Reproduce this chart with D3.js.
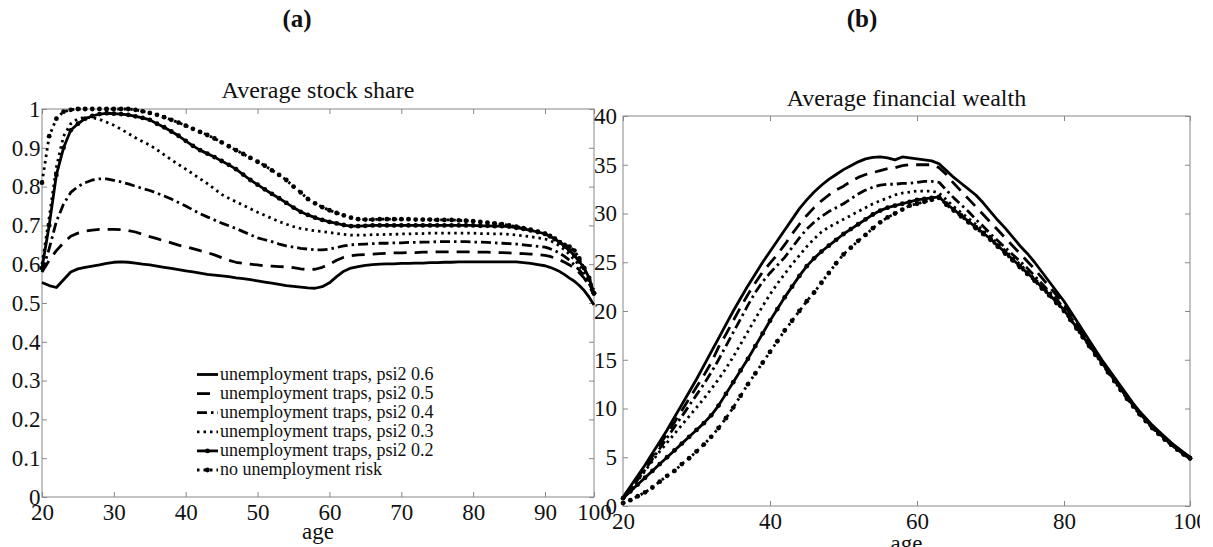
<!DOCTYPE html>
<html><head><meta charset="utf-8">
<script src="https://cdn.jsdelivr.net/npm/d3@7"></script>
<style>
body{margin:0;background:#fff}
svg{display:block}
text{font-family:"Liberation Serif","Times New Roman",serif;fill:#111}
</style>
</head><body>
<svg id="c" width="1213" height="547"></svg>
<script>
// ---------- data ----------
const ages = [20,21,22,23,24,25,26,27,28,29,30,31,32,33,34,35,36,37,38,39,40,41,42,43,44,45,46,47,48,49,50,
  51,52,53,54,55,56,57,58,59,60,61,62,63,64,65,66,67,68,69,70,71,72,73,74,75,76,77,78,79,80,
  81,82,83,84,85,86,87,88,89,90,91,92,93,94,95,96,97,98,99,100];

const seriesNames = ["unemployment traps, psi2 0.6","unemployment traps, psi2 0.5","unemployment traps, psi2 0.4",
  "unemployment traps, psi2 0.3","unemployment traps, psi2 0.2","no unemployment risk"];

// Average stock share (panel a)
const shareP06 = [0.553,0.545,0.540,0.560,0.580,0.588,0.592,0.595,0.598,0.602,0.605,0.606,0.605,0.603,0.600,0.598,0.595,0.592,0.589,0.586,
  0.583,0.580,0.577,0.574,0.572,0.570,0.568,0.565,0.563,0.560,0.557,0.554,0.551,0.548,0.545,0.543,0.541,0.539,0.538,0.542,
  0.552,0.568,0.582,0.590,0.594,0.597,0.599,0.600,0.601,0.601,0.602,0.602,0.603,0.603,0.604,0.604,0.605,0.605,0.606,0.606,
  0.606,0.606,0.606,0.606,0.606,0.606,0.606,0.604,0.602,0.599,0.596,0.592,0.587,0.581,0.573,0.564,0.556,0.545,0.532,0.515,0.495];
const shareP05 = [0.580,0.610,0.635,0.655,0.672,0.680,0.685,0.688,0.690,0.690,0.690,0.689,0.687,0.683,0.677,0.671,0.666,0.660,0.655,0.649,
  0.645,0.640,0.635,0.630,0.624,0.617,0.610,0.605,0.602,0.600,0.598,0.596,0.595,0.594,0.593,0.591,0.588,0.586,0.587,0.592,
  0.600,0.610,0.618,0.622,0.624,0.625,0.626,0.627,0.628,0.629,0.629,0.630,0.630,0.631,0.631,0.632,0.632,0.632,0.632,0.632,
  0.632,0.631,0.631,0.630,0.630,0.629,0.628,0.627,0.626,0.625,0.623,0.620,0.616,0.611,0.605,0.598,0.589,0.578,0.564,0.545,0.520];
const shareP04 = [0.580,0.640,0.710,0.755,0.785,0.800,0.810,0.817,0.820,0.820,0.816,0.812,0.807,0.801,0.795,0.790,0.783,0.776,0.768,0.759,
  0.750,0.740,0.730,0.722,0.714,0.706,0.699,0.692,0.684,0.676,0.668,0.663,0.658,0.652,0.647,0.644,0.641,0.639,0.637,0.637,
  0.639,0.643,0.647,0.650,0.651,0.652,0.653,0.654,0.654,0.655,0.655,0.656,0.656,0.657,0.657,0.658,0.658,0.658,0.658,0.658,
  0.657,0.657,0.656,0.655,0.654,0.653,0.652,0.650,0.648,0.646,0.644,0.640,0.635,0.628,0.620,0.610,0.598,0.585,0.570,0.550,0.525];
const shareP03 = [0.600,0.720,0.850,0.930,0.962,0.975,0.978,0.978,0.973,0.966,0.958,0.948,0.937,0.926,0.916,0.907,0.895,0.882,0.869,0.857,
  0.845,0.833,0.820,0.808,0.794,0.780,0.770,0.761,0.752,0.743,0.734,0.726,0.718,0.710,0.703,0.697,0.692,0.689,0.686,0.684,
  0.682,0.679,0.677,0.675,0.675,0.675,0.676,0.676,0.677,0.677,0.678,0.678,0.679,0.679,0.680,0.680,0.680,0.680,0.680,0.680,
  0.680,0.679,0.679,0.678,0.678,0.677,0.675,0.673,0.671,0.668,0.665,0.661,0.655,0.647,0.637,0.625,0.612,0.597,0.580,0.560,0.535];
const shareP02 = [0.590,0.700,0.830,0.900,0.945,0.962,0.975,0.982,0.987,0.989,0.988,0.987,0.985,0.981,0.977,0.972,0.962,0.953,0.942,0.931,
  0.918,0.905,0.894,0.885,0.876,0.866,0.856,0.845,0.831,0.817,0.805,0.793,0.781,0.770,0.758,0.746,0.735,0.727,0.720,0.714,
  0.709,0.705,0.701,0.698,0.698,0.699,0.700,0.700,0.700,0.700,0.700,0.700,0.700,0.700,0.700,0.700,0.700,0.700,0.700,0.700,
  0.700,0.699,0.699,0.698,0.698,0.697,0.694,0.691,0.687,0.683,0.678,0.672,0.665,0.656,0.646,0.635,0.622,0.607,0.590,0.565,0.525];
const shareNoRisk = [0.810,0.930,0.975,0.993,0.998,1.000,1.000,1.000,1.000,1.000,1.000,1.000,1.000,0.998,0.994,0.990,0.985,0.979,0.972,0.965,
  0.957,0.949,0.941,0.933,0.924,0.914,0.904,0.894,0.884,0.874,0.864,0.854,0.842,0.830,0.817,0.800,0.785,0.768,0.757,0.747,
  0.739,0.732,0.726,0.720,0.716,0.715,0.715,0.716,0.716,0.716,0.716,0.716,0.715,0.715,0.715,0.714,0.714,0.714,0.713,0.712,
  0.711,0.709,0.707,0.705,0.703,0.700,0.697,0.693,0.689,0.684,0.679,0.673,0.666,0.657,0.650,0.645,0.635,0.615,0.590,0.560,0.525];

// Average financial wealth (panel b)
const wealthP06 = [0.9,2.0,3.1,4.2,5.4,6.6,7.8,9.1,10.4,11.7,13.0,14.4,15.8,17.2,18.6,20.0,21.3,22.6,23.8,25.0,
  26.1,27.2,28.3,29.4,30.5,31.4,32.2,32.9,33.5,34.0,34.5,34.9,35.3,35.6,35.75,35.8,35.7,35.5,35.8,35.7,
  35.6,35.5,35.4,35.1,34.4,33.7,33.1,32.5,31.9,31.1,30.2,29.3,28.5,27.6,26.7,25.9,25.0,24.0,23.0,22.0,
  21.0,20.0,19.0,18.0,17.0,16.0,15.0,14.1,13.2,12.3,11.4,10.5,9.7,9.0,8.3,7.7,7.1,6.5,6.0,5.5,5.0];
const wealthP05 = [0.8,1.8,2.9,4.0,5.1,6.3,7.4,8.6,9.8,11.0,12.2,13.4,14.7,16.3,17.6,19.0,20.4,21.7,22.9,24.0,
  24.9,25.8,26.8,27.9,28.9,29.8,30.6,31.3,31.9,32.4,32.8,33.3,33.7,34.0,34.2,34.4,34.6,34.7,34.9,35.0,
  35.0,35.0,35.0,34.7,34.0,33.1,32.3,31.5,30.7,29.9,29.1,28.3,27.5,26.7,25.9,25.1,24.3,23.4,22.5,21.6,
  20.7,19.7,18.8,17.8,16.9,15.9,14.9,14.0,13.1,12.2,11.3,10.4,9.6,8.9,8.2,7.6,7.0,6.4,5.9,5.4,5.0];
const wealthP04 = [0.7,1.7,2.7,3.7,4.8,5.9,7.0,8.1,9.2,10.3,11.4,12.5,13.7,15.0,16.4,17.8,19.2,20.6,21.9,23.0,
  23.9,24.7,25.5,26.5,27.5,28.4,29.1,29.7,30.2,30.6,31.0,31.5,32.0,32.4,32.7,32.9,33.0,33.0,33.1,33.1,
  33.2,33.3,33.3,33.2,32.4,31.6,30.9,30.2,29.4,28.7,27.9,27.2,26.5,25.8,25.1,24.4,23.6,22.8,22.0,21.2,
  20.3,19.4,18.5,17.6,16.7,15.8,14.9,14.0,13.0,12.1,11.2,10.4,9.6,8.9,8.2,7.6,7.0,6.4,5.9,5.4,5.0];
const wealthP03 = [0.7,1.6,2.6,3.6,4.6,5.6,6.5,7.4,8.3,9.2,10.1,11.0,12.0,13.0,14.1,15.3,16.6,17.9,19.2,20.5,
  21.7,22.8,23.8,24.8,25.7,26.6,27.4,28.1,28.6,29.0,29.4,29.8,30.2,30.6,31.0,31.3,31.6,31.9,32.1,32.2,
  32.3,32.3,32.3,32.1,31.4,30.7,30.1,29.5,28.9,28.3,27.6,26.9,26.2,25.5,24.8,24.1,23.3,22.6,21.8,21.0,
  20.2,19.3,18.4,17.5,16.6,15.7,14.8,13.9,13.0,12.1,11.2,10.4,9.6,8.9,8.2,7.6,7.0,6.4,5.9,5.4,5.0];
const wealthP02 = [0.8,1.5,2.2,2.9,3.6,4.3,5.0,5.7,6.4,7.1,7.8,8.5,9.3,10.3,11.5,12.7,13.9,15.1,16.4,17.7,
  19.0,20.2,21.4,22.5,23.6,24.6,25.4,26.1,26.7,27.3,27.9,28.4,28.9,29.4,29.9,30.3,30.6,30.8,31.0,31.2,
  31.4,31.5,31.6,31.7,31.0,30.4,29.8,29.2,28.6,28.0,27.4,26.7,26.0,25.3,24.6,23.9,23.2,22.4,21.7,20.9,
  20.1,19.2,18.3,17.4,16.5,15.6,14.7,13.8,12.9,12.0,11.1,10.3,9.5,8.8,8.1,7.5,6.9,6.3,5.8,5.3,4.9];
const wealthNoRisk = [0.3,0.6,1.0,1.4,1.9,2.5,3.1,3.6,4.3,4.9,5.6,6.3,7.1,8.0,9.0,10.1,11.3,12.5,13.6,14.7,
  15.8,16.9,18.0,19.0,20.0,21.0,21.9,22.9,23.9,24.9,25.8,26.5,27.2,27.8,28.5,29.1,29.6,30.0,30.4,30.8,
  31.0,31.2,31.4,31.6,30.9,30.3,29.7,29.1,28.5,27.9,27.3,26.6,25.9,25.2,24.5,23.8,23.1,22.3,21.6,20.8,
  20.0,19.1,18.2,17.3,16.4,15.5,14.6,13.7,12.8,11.9,11.0,10.2,9.4,8.7,8.0,7.4,6.8,6.3,5.8,5.3,4.9];

const shareTicks = [0,0.1,0.2,0.3,0.4,0.5,0.6,0.7,0.8,0.9,1];
const shareTickLabels = ["0","0.1","0.2","0.3","0.4","0.5","0.6","0.7","0.8","0.9","1"];
const ageTicksA = [20,30,40,50,60,70,80,90,100];
const wealthTicks = [0,5,10,15,20,25,30,35,40];
const ageTicksB = [20,40,60,80,100];

// ---------- styles ----------
const styles = [
  {dash:null, marker:false},
  {dash:"13,8", marker:false},
  {dash:"10,4,2.5,4", marker:false},
  {dash:"2.5,4", marker:false},
  {dash:null, marker:true},
  {dash:"2.5,4", marker:true}
];

const svg = d3.select("#c");
svg.append("defs").append("clipPath").attr("id","pageclip")
  .append("rect").attr("x",0).attr("y",0).attr("width",1200).attr("height",547);
const root = svg.append("g").attr("clip-path","url(#pageclip)");

function panel(opt){
  const g = root.append("g");
  const x = opt.x, y = opt.y;
  const [x0,x1] = [x.range()[0], x.range()[x.range().length-1]];
  const [y0,y1] = y.range();
  // ticks
  const bottom = g.append("g").attr("transform",`translate(0,${y0})`)
    .call(d3.axisBottom(x).tickValues(opt.xTicks).tickSize(-5).tickSizeOuter(0).tickPadding(opt.xPad).tickFormat(d3.format("d")));
  const top = g.append("g").attr("transform",`translate(0,${y1})`)
    .call(d3.axisTop(x).tickValues(opt.xTicks).tickSize(-5).tickSizeOuter(0).tickFormat(""));
  const left = g.append("g").attr("transform",`translate(${x0},0)`)
    .call(d3.axisLeft(y).tickValues(opt.yTicks).tickSize(-5).tickSizeOuter(0).tickPadding(opt.yPad)
      .tickFormat((d,i)=>opt.yLabels[i]));
  const right = g.append("g").attr("transform",`translate(${x1},0)`)
    .call(d3.axisRight(y).tickValues(opt.yTicks).tickSize(-5).tickSizeOuter(0).tickFormat(""));
  [bottom,top,left,right].forEach(a=>{
    a.select(".domain").remove();
    a.selectAll("line").attr("stroke","#888");
    a.selectAll("text").attr("font-family",'"Liberation Serif",serif').attr("font-size",23).attr("fill","#111");
  });
  g.append("rect").attr("x",x0).attr("y",y1).attr("width",x1-x0).attr("height",y0-y1)
    .attr("fill","none").attr("stroke","#888").attr("stroke-width",1);

  const line = d3.line().x((d,i)=>x(ages[i])).y(d=>y(d));
  opt.series.forEach((s,k)=>{
    const st = styles[k];
    g.append("path").datum(s).attr("d",line).attr("fill","none").attr("stroke","#000")
      .attr("stroke-width",2.8).attr("stroke-dasharray",st.dash).attr("stroke-linejoin","round");
    if(st.marker){
      g.append("g").selectAll("circle").data(s).join("circle")
        .attr("cx",(d,i)=>x(ages[i])).attr("cy",d=>y(d)).attr("r",2.4).attr("fill","#000");
    }
  });
  g.append("text").attr("x",(x0+x1)/2).attr("y",opt.titleY).attr("text-anchor","middle")
    .attr("font-size",24).text(opt.title);
  g.append("text").attr("x",(x0+x1)/2).attr("y",opt.xlabY).attr("text-anchor","middle")
    .attr("font-size",23).text("age");
  return g;
}

const xA = d3.scaleLinear().domain([20,90,100]).range([42,545,594]);
const yA = d3.scaleLinear().domain([0,1]).range([497,109]);
const xB = d3.scaleLinear().domain([20,80,100]).range([623,1064,1190]);
const yB = d3.scaleLinear().domain([0,40]).range([506,116]);

const gA = panel({x:xA,y:yA,xTicks:ageTicksA,yTicks:shareTicks,yLabels:shareTickLabels,xPad:6.5,yPad:1.5,
  series:[shareP06,shareP05,shareP04,shareP03,shareP02,shareNoRisk],title:"Average stock share",titleY:98,xlabY:539});
const gB = panel({x:xB,y:yB,xTicks:ageTicksB,yTicks:wealthTicks,yLabels:wealthTicks.map(String),xPad:6.5,yPad:6,
  series:[wealthP06,wealthP05,wealthP04,wealthP03,wealthP02,wealthNoRisk],title:"Average financial wealth",titleY:106,xlabY:551});

// legend (panel a)
const leg = gA.append("g");
seriesNames.forEach((name,k)=>{
  const cy = 374.5 + k*19.1;
  const st = styles[k];
  leg.append("line").attr("x1",197).attr("x2",218).attr("y1",cy).attr("y2",cy)
    .attr("stroke","#000").attr("stroke-width",2.8).attr("stroke-dasharray",st.dash);
  if(st.marker) leg.append("circle").attr("cx",207.5).attr("cy",cy).attr("r",2.4).attr("fill","#000");
  leg.append("text").attr("x",220).attr("y",cy+5).attr("font-size",18).text(name);
});

// panel letters
root.append("text").attr("x",297).attr("y",27).attr("text-anchor","middle").attr("font-size",25).attr("font-weight","bold").text("(a)");
root.append("text").attr("x",862).attr("y",27).attr("text-anchor","middle").attr("font-size",25).attr("font-weight","bold").text("(b)");
</script>
</body></html>
